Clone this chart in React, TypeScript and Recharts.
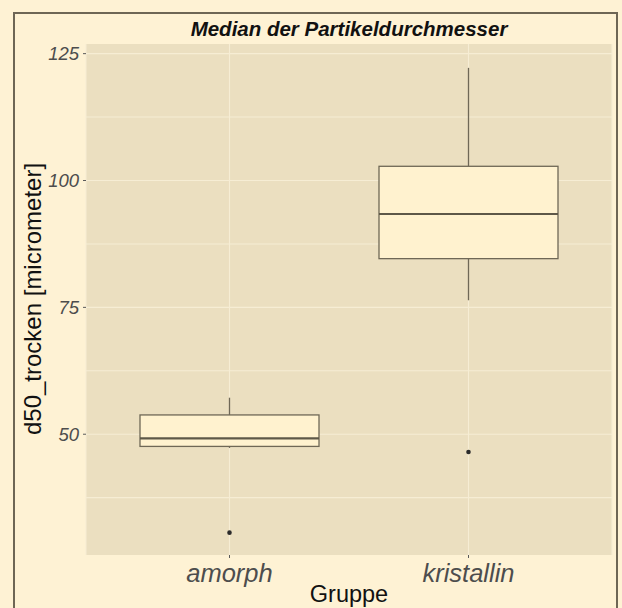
import React from "react";
import { ComposedChart, Bar, Scatter, XAxis, YAxis, CartesianGrid } from "recharts";

const groups = ["amorph", "kristallin"];
const whiskerLow = [47.3, 76.4];
const q1 = [47.6, 84.6];
const median = [49.2, 93.4];
const q3 = [53.8, 102.8];
const whiskerHigh = [57.2, 122.2];
const outliers = [30.6, 46.5];

const yTicks = [50, 75, 100, 125];
const gridValues = [37.5, 50, 62.5, 75, 87.5, 100, 112.5, 125];

const data = groups.map((name, i) => ({
  name,
  box: [q1[i], q3[i]],
  lo: whiskerLow[i],
  q1: q1[i],
  med: median[i],
  q3: q3[i],
  hi: whiskerHigh[i],
  outlier: outliers[i],
}));

const FONT = "'Liberation Sans', Arial, sans-serif";
const STROKE = "#6f6856";

function BoxShape(props: any) {
  const { x, y, width, height, payload } = props;
  const top = Math.min(y, y + height);
  const h = Math.abs(height);
  const ppu = h / (payload.q3 - payload.q1);
  const yOf = (v: number) => top + (payload.q3 - v) * ppu;
  const cx = x + width / 2;
  return (
    <g>
      <line x1={cx} x2={cx} y1={yOf(payload.hi)} y2={yOf(payload.q3)} stroke={STROKE} strokeWidth={1.3} />
      <line x1={cx} x2={cx} y1={yOf(payload.q1)} y2={yOf(payload.lo)} stroke={STROKE} strokeWidth={1.3} />
      <rect x={x} y={top} width={width} height={h} fill="#fff2cf" stroke={STROKE} strokeWidth={1.3} />
      <line x1={x} x2={x + width} y1={yOf(payload.med)} y2={yOf(payload.med)} stroke="#5e5848" strokeWidth={2.2} />
    </g>
  );
}

function Dot(props: any) {
  const { cx, cy } = props;
  return <circle cx={cx} cy={cy} r={2.3} fill="#2b2b2b" />;
}

export default function App() {
  return (
    <div style={{ position: "absolute", left: 0, top: 0, width: 622, height: 608, background: "#fef2d4", overflow: "hidden" }}>
      <div style={{ position: "absolute", left: 13, top: 12, width: 605, height: 700, border: "2px solid #6e6655", boxSizing: "border-box" }} />
      <div style={{ position: "absolute", left: 86, width: 526, top: 19, textAlign: "center", fontFamily: FONT, fontWeight: "bold", fontStyle: "italic", fontSize: 20.5, color: "#111", lineHeight: "20.5px" }}>
        Median der Partikeldurchmesser
      </div>
      <div style={{ position: "absolute", left: 0, top: 0 }}>
        <ComposedChart width={622} height={608} data={data} margin={{ top: 44, right: 10, left: 0, bottom: 0 }}>
          <CartesianGrid
            fill="#ebdfc0"
            stroke="#f6edd4"
            strokeWidth={1.1}
            horizontalValues={gridValues}
          />
          <XAxis
            dataKey="name"
            height={53}
            padding={{ left: 24, right: 24 }}
            axisLine={false}
            tickSize={3}
            tickMargin={6}
            tickLine={{ stroke: "#5a5a5a" }}
            tick={{ fill: "#4d4d4d", fontSize: 25.5, fontStyle: "italic", fontFamily: FONT }}
            label={{
              content: () => (
                <text x={349} y={602} textAnchor="middle" fontSize={23.5} fontFamily={FONT} fill="#111">Gruppe</text>
              ),
            }}
          />
          <YAxis
            width={86}
            type="number"
            domain={[26.2, 126.9]}
            ticks={yTicks}
            allowDataOverflow
            axisLine={false}
            tickSize={3}
            tickMargin={4}
            tickLine={{ stroke: "#5a5a5a" }}
            tick={{ fill: "#4d4d4d", fontSize: 18.5, fontStyle: "italic", fontFamily: FONT }}
            label={{
              content: () => (
                <text x={32} y={299} textAnchor="middle" dominantBaseline="central" transform="rotate(-90 32 299)" fontSize={24} fontFamily={FONT} fill="#111">
                  d50_trocken [micrometer]
                </text>
              ),
            }}
          />
          <Bar dataKey="box" barSize={179} shape={<BoxShape />} isAnimationActive={false} />
          <Scatter dataKey="outlier" shape={<Dot />} isAnimationActive={false} />
        </ComposedChart>
      </div>
    </div>
  );
}
